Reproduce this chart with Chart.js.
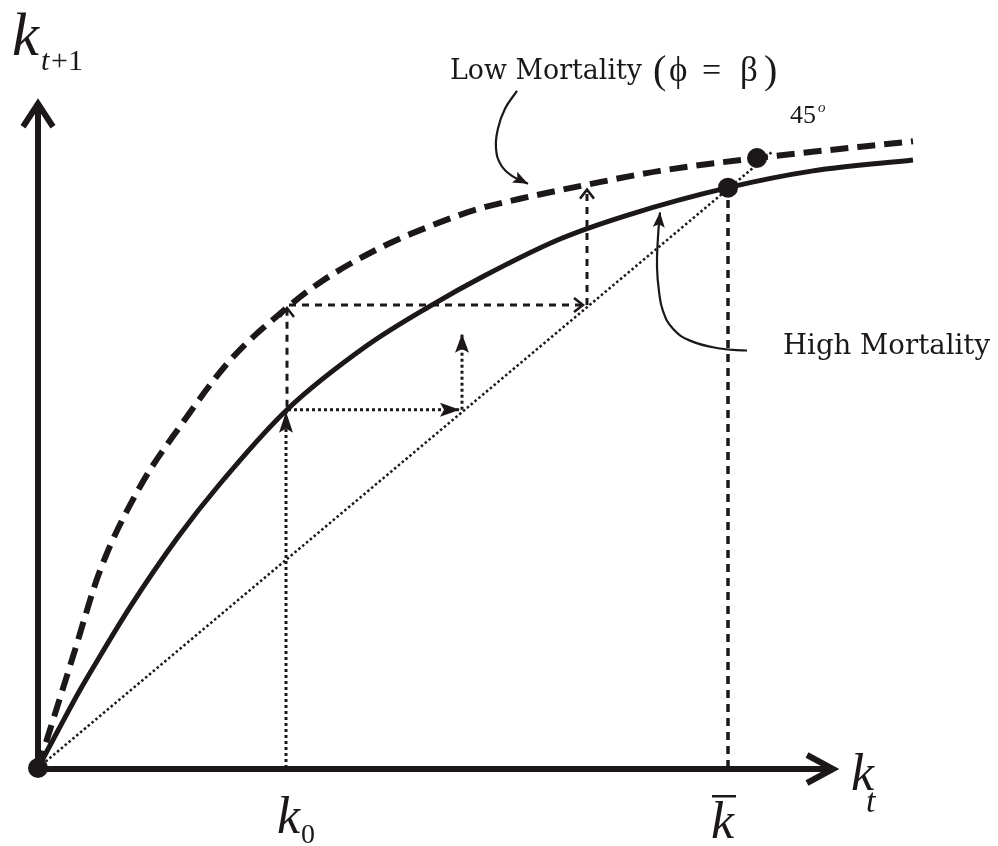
<!DOCTYPE html>
<html><head><meta charset="utf-8">
<script src="https://cdn.jsdelivr.net/npm/chart.js@4"></script>
<style>html,body{margin:0;padding:0;background:#fff}canvas{display:block}</style>
</head><body>
<canvas id="c" width="998" height="846"></canvas>
<script>
const INK = '#1c1819';
// High mortality transition curve: k_t -> k_{t+1}
const highK    = [0, 20, 42, 60, 92, 140, 182, 249, 329, 392, 445, 522, 589, 690, 775, 875];
const highNext = [0, 38, 79, 110, 163, 234, 288, 363, 428, 468, 498, 536, 560, 588, 605, 616];
// Low mortality (phi = beta) transition curve
const lowK    = [0, 35, 62, 102, 142, 192, 245, 282, 342, 392, 439, 492, 549, 622, 719, 875];
const lowNext = [0, 113, 200, 285, 346, 413, 463, 492, 527, 549, 566, 579, 591, 605, 618, 635];
// 45 degree line
const diagK = [0, 735];
const diagNext = [0, 625];
// steady states and initial capital
const k0 = 248;
const kbar = 690;
const steadyK = [0, 690, 719];
const steadyNext = [0, 588, 618];
// transition steps
const stepHighK = [248, 424];     // k0 -> k1 (high mortality)
const stepHighNext = [363, 440];
const stepLowK = [249, 549];      // k0 -> k1 (low mortality)
const stepLowNext = [469, 586];
// axes extent
const axisXMax = 795;
const axisYMax = 673;
// annotation pointer curves
const lowPtrK = [479, 467, 460, 458, 463, 474, 490];
const lowPtrNext = [686, 668, 648, 628, 611, 600, 592];
const highPtrK = [709, 682, 652, 635, 625, 621, 619, 620, 622];
const highPtrNext = [423, 425, 433, 445, 463, 483, 508, 538, 563];

const zip = (xs, ys) => xs.map((x, i) => ({x, y: ys[i]}));
const seg = (a, b) => [a, b];

function lineDS(data, opts) {
  return Object.assign({
    data, showLine: true, pointRadius: 0, borderColor: INK, backgroundColor: INK,
    borderWidth: 3, fill: false, clip: false, tension: 0
  }, opts);
}

const datasets = [
  lineDS(zip(highK, highNext), {borderWidth: 5, cubicInterpolationMode: 'monotone'}),
  lineDS(zip(lowK, lowNext), {borderWidth: 6, borderDash: [18, 9], cubicInterpolationMode: 'monotone'}),
  lineDS(zip(diagK, diagNext), {borderWidth: 2.5, borderDash: [2.5, 2.5]}),
  // axes
  lineDS(seg({x:0,y:-1},{x:axisXMax,y:-1}), {borderWidth: 6, arrow:'open', arrowLen: 26, arrowHalf: 14, arrowWidth: 6}),
  lineDS(seg({x:0,y:0},{x:0,y:axisYMax}), {borderWidth: 6, arrow:'open', arrowLen: 23, arrowHalf: 15, arrowWidth: 6}),
  // dotted steps (high mortality)
  lineDS(seg({x:k0,y:0},{x:k0,y:stepHighNext[0]-2}), {borderWidth: 3, borderDash:[3,3], arrow:'filled', arrowLen: 21, arrowHalf: 7}),
  lineDS(seg({x:k0+2,y:stepHighNext[0]},{x:stepHighK[1]-2,y:stepHighNext[0]}), {borderWidth: 3, borderDash:[3,3], arrow:'filled', arrowLen: 20, arrowHalf: 7}),
  lineDS(seg({x:stepHighK[1],y:stepHighNext[0]},{x:stepHighK[1],y:stepHighNext[1]}), {borderWidth: 3, borderDash:[3,3], arrow:'filled', arrowLen: 19, arrowHalf: 7}),
  // dashed steps (low mortality)
  lineDS(seg({x:stepLowK[0],y:stepHighNext[0]+3},{x:stepLowK[0],y:stepLowNext[0]-3}), {borderWidth: 3, borderDash:[7,6], arrow:'open', arrowLen: 9, arrowHalf: 7, arrowWidth: 2.5}),
  lineDS(seg({x:stepLowK[0]+2,y:stepLowNext[0]},{x:stepLowK[1]-4,y:stepLowNext[0]}), {borderWidth: 3, borderDash:[7,6], arrow:'open', arrowLen: 9, arrowHalf: 7, arrowWidth: 2.5}),
  lineDS(seg({x:stepLowK[1],y:stepLowNext[0]},{x:stepLowK[1],y:stepLowNext[1]}), {borderWidth: 3, borderDash:[7,6], arrow:'open', arrowLen: 9, arrowHalf: 7, arrowWidth: 2.5}),
  // kbar
  lineDS(seg({x:kbar,y:0},{x:kbar,y:steadyNext[1]-10}), {borderWidth: 3.5, borderDash:[8,6]}),
  // pointer curves
  lineDS(zip(lowPtrK, lowPtrNext), {borderWidth: 2.2, tension: 0.45, arrow:'filled', arrowLen: 15, arrowHalf: 6}),
  lineDS(zip(highPtrK, highPtrNext), {borderWidth: 2.2, tension: 0.45, arrow:'filled', arrowLen: 15, arrowHalf: 6}),
  // steady state dots
  {data: zip(steadyK, steadyNext), showLine: false, pointRadius: 10, pointBackgroundColor: INK, pointBorderColor: INK, pointBorderWidth: 0, clip: false}
];

const arrowPlugin = {
  id: 'arrows',
  afterDatasetsDraw(chart) {
    const ctx = chart.ctx;
    chart.data.datasets.forEach((ds, i) => {
      if (!ds.arrow) return;
      const pts = chart.getDatasetMeta(i).data;
      const n = pts.length;
      const p1 = pts[n-2], p2 = pts[n-1];
      let dx = p2.x - p1.x, dy = p2.y - p1.y;
      const L = Math.hypot(dx, dy); dx /= L; dy /= L;
      const len = ds.arrowLen, half = ds.arrowHalf;
      const bx = p2.x - dx*len, by = p2.y - dy*len;
      const ax = bx - dy*half, ay = by + dx*half, cx = bx + dy*half, cy = by - dx*half;
      ctx.save();
      ctx.setLineDash([]);
      if (ds.arrow === 'filled') {
        const nx = p2.x - dx*len*0.8, ny = p2.y - dy*len*0.8;
        ctx.fillStyle = INK;
        ctx.beginPath();
        ctx.moveTo(p2.x, p2.y); ctx.lineTo(ax, ay); ctx.lineTo(nx, ny); ctx.lineTo(cx, cy);
        ctx.closePath(); ctx.fill();
      } else {
        ctx.strokeStyle = INK; ctx.lineWidth = ds.arrowWidth;
        ctx.lineJoin = 'miter'; ctx.lineCap = 'butt';
        ctx.beginPath();
        ctx.moveTo(ax, ay); ctx.lineTo(p2.x, p2.y); ctx.lineTo(cx, cy);
        ctx.stroke();
      }
      ctx.restore();
    });
  }
};

const textPlugin = {
  id: 'labels',
  afterDraw(chart) {
    const ctx = chart.ctx;
    const sx = chart.scales.x;
    ctx.save();
    ctx.fillStyle = INK;
    ctx.textBaseline = 'alphabetic';
    ctx.textAlign = 'left';
    const T = (s, x, y, f) => { ctx.font = f; ctx.fillText(s, x, y); };
    const fit = (s, x, y, f, w) => {
      ctx.font = f;
      const m = ctx.measureText(s).width;
      ctx.save();
      ctx.translate(x, y);
      ctx.scale(Math.min(1, w / m), 1);
      ctx.fillText(s, 0, 0);
      ctx.restore();
    };
    const ser = '"Liberation Serif", "Times New Roman", serif';
    const lab = '"DejaVu Serif", serif';
    // y axis label
    T('k', 12, 55, 'italic 61px ' + ser);
    T('t', 41, 70, 'italic 30px ' + ser);
    T('+1', 51, 70, '30px ' + ser);
    // x axis label
    T('k', 851, 790, 'italic 52px ' + ser);
    T('t', 866, 812, 'italic 34px ' + ser);
    // k0
    const xk0 = sx.getPixelForValue(k0);
    T('k', xk0 - 9, 833, 'italic 52px ' + ser);
    T('0', xk0 + 15, 843, '28px ' + ser);
    // kbar
    const xkb = sx.getPixelForValue(kbar);
    T('k', xkb - 17, 838, 'italic 52px ' + ser);
    ctx.fillRect(xkb - 16, 795, 24, 2.5);
    // 45 degrees
    T('45', 790, 123, '26px ' + ser);
    T('o', 818, 112, 'italic 15px ' + ser);
    // curve labels
    fit('Low Mortality', 450, 79, '28px ' + lab, 192);
    T('(', 653, 83, '40px ' + ser);
    T('\u03D5', 669, 81, '35px ' + ser);
    T('=', 702, 81, '34px ' + ser);
    T('\u03B2', 740, 81, '35px ' + ser);
    T(')', 764, 83, '40px ' + ser);
    fit('High Mortality', 783, 354, '28px ' + lab, 207);
    ctx.restore();
  }
};

new Chart(document.getElementById('c'), {
  type: 'scatter',
  data: {datasets},
  options: {
    responsive: false,
    animation: false,
    events: [],
    layout: {padding: {left: 38, right: 60, top: 0, bottom: 78}},
    scales: {
      x: {type: 'linear', min: 0, max: 900, display: false},
      y: {type: 'linear', min: 0, max: 768, display: false}
    },
    plugins: {legend: {display: false}, tooltip: {enabled: false}, title: {display: false}}
  },
  plugins: [arrowPlugin, textPlugin]
});
</script>
</body></html>
